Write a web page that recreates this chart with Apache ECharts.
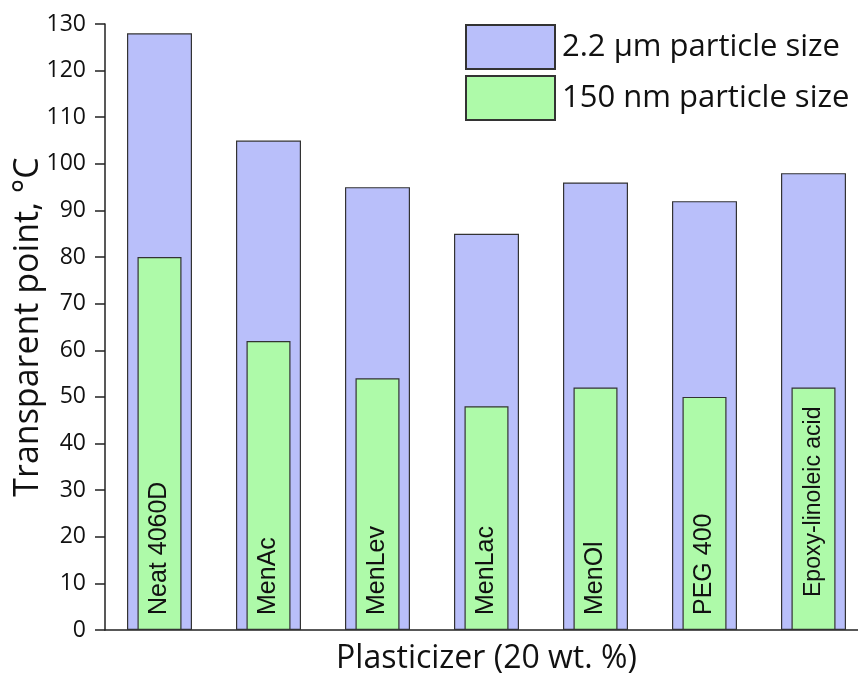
<!DOCTYPE html>
<html>
<head>
<meta charset="utf-8">
<script src="https://cdn.jsdelivr.net/npm/echarts@6/dist/echarts.min.js"></script>
<style>html,body{margin:0;padding:0;background:#fff}#c{width:858px;height:675px}</style>
</head>
<body>
<div id="c"></div>
<script>
var categories = ['Neat 4060D', 'MenAc', 'MenLev', 'MenLac', 'MenOl', 'PEG 400', 'Epoxy-linoleic acid'];
var microValues = [128, 105, 95, 85, 96, 92, 98];
var nanoValues = [80, 62, 54, 48, 52, 50, 52];
var seriesNames = ['2.2 \u00b5m particle size', '150 nm particle size'];

var chart = echarts.init(document.getElementById('c'));
var nanoData = nanoValues.map(function (v, i) {
  if (i === 6) return { value: v, label: { distance: 33, fontSize: 23 } };
  return v;
});
chart.setOption({
  animation: false,
  backgroundColor: '#fff',
  grid: { left: 105, right: -10, top: 24, bottom: 45, outerBoundsMode: 'none', containLabel: false },
  legend: {
    orient: 'vertical', left: 460, top: 19, itemWidth: 89, itemHeight: 44, itemGap: 5,
    icon: 'rect',
    textStyle: { fontFamily: 'Open Sans', fontSize: 31, color: '#111', padding: [0, 0, 0, 2] },
    data: seriesNames
  },
  xAxis: [{
    type: 'category', data: categories,
    axisLine: { lineStyle: { color: '#222', width: 1.5 } },
    axisTick: { show: false }, axisLabel: { show: false },
    name: 'Plasticizer (20 wt. %)', nameLocation: 'middle', nameGap: 13,
    nameTextStyle: { fontFamily: 'Open Sans', fontSize: 32, color: '#111' }
  }, {
    type: 'category', data: categories, show: false
  }],
  yAxis: {
    type: 'value', min: 0, max: 130, interval: 10,
    axisLine: { show: true, lineStyle: { color: '#222', width: 1.5 } },
    axisTick: { show: true, inside: false, length: 10, lineStyle: { color: '#222', width: 1.5 } },
    splitLine: { show: false },
    axisLabel: { fontFamily: 'Open Sans', fontSize: 23, color: '#111', margin: 19 },
    name: 'Transparent point, \u00b0C', nameLocation: 'middle', nameGap: 60, nameMoveOverlap: false,
    nameTextStyle: { fontFamily: 'Open Sans', fontSize: 34, color: '#111' }
  },
  series: [{
    name: seriesNames[0], type: 'bar', data: microValues, barWidth: 65,
    itemStyle: { color: '#b9bffa', borderColor: '#333', borderWidth: 1.2 }
  }, {
    name: seriesNames[1], type: 'bar', data: nanoData, barWidth: 44, xAxisIndex: 1, z: 3,
    itemStyle: { color: '#aefaa9', borderColor: '#333', borderWidth: 1.2 },
    label: {
      show: true, position: 'insideBottom', rotate: 90, align: 'left', verticalAlign: 'middle',
      distance: 15, fontFamily: 'Liberation Sans', fontSize: 25, color: '#111',
      formatter: function (p) { return p.name; }
    }
  }]
});
</script>
</body>
</html>
